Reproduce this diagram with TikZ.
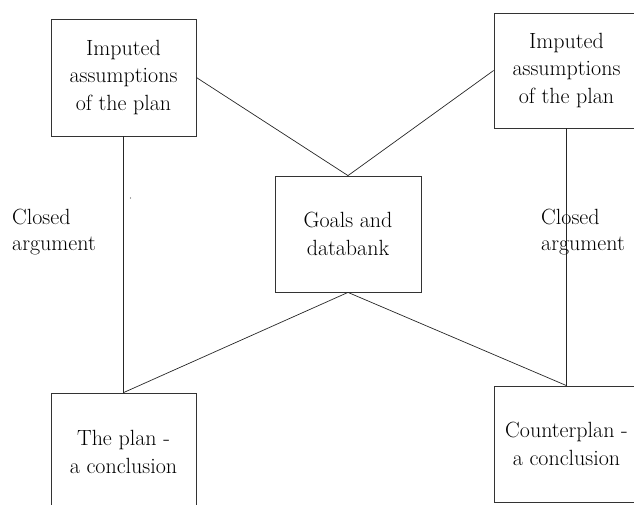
\documentclass[tikz,border=0pt]{standalone}
\begin{document}
\begin{tikzpicture}[x=1pt,y=-1pt,
  box/.style={draw=black!80,line width=0.8pt,fill=white,inner sep=0pt,
    align=center,font=\fontsize{22}{27.5}\selectfont},
  link/.style={draw=black!85,line width=0.7pt},
  label/.style={inner sep=0pt,align=left,font=\fontsize{22}{26}\selectfont}]
  \useasboundingbox (0,0) rectangle (634,504);
  \clip (0,0) rectangle (634,504);

  % boxes
  \node[box,minimum width=145pt,minimum height=117pt] (assumeL) at (123.5,77.5)
    {Imputed\\assumptions\\of the plan};
  \node[box,minimum width=145pt,minimum height=115pt] (assumeR) at (566.5,70.5)
    {Imputed\\assumptions\\of the plan};
  \node[box,minimum width=146pt,minimum height=116pt] (goals) at (348,234)
    {Goals and\\databank};
  \node[box,minimum width=145pt,minimum height=118pt] (plan) at (123.5,452)
    {The plan -\\a conclusion};
  \node[box,minimum width=145pt,minimum height=116pt] (counter) at (566.5,444)
    {Counterplan -\\a conclusion};

  % connectors
  \draw[link] (assumeL.east) -- (goals.north);
  \draw[link] (assumeR.west) -- (goals.north);
  \draw[link] (assumeL.south) -- (plan.north);
  \draw[link] (assumeR.south) -- (counter.north);
  \draw[link] (goals.south) -- (plan.north);
  \draw[link] (goals.south) -- (counter.north);

  % side labels
  \node[label,anchor=north west] (closedL) at (12,209) {Closed\\argument};
  \node[label,anchor=north west] (closedR) at (541,209) {Closed\\argument};

  % small speck
  \fill[black!70] (130.5,198) circle (0.6pt);
\end{tikzpicture}
\end{document}
